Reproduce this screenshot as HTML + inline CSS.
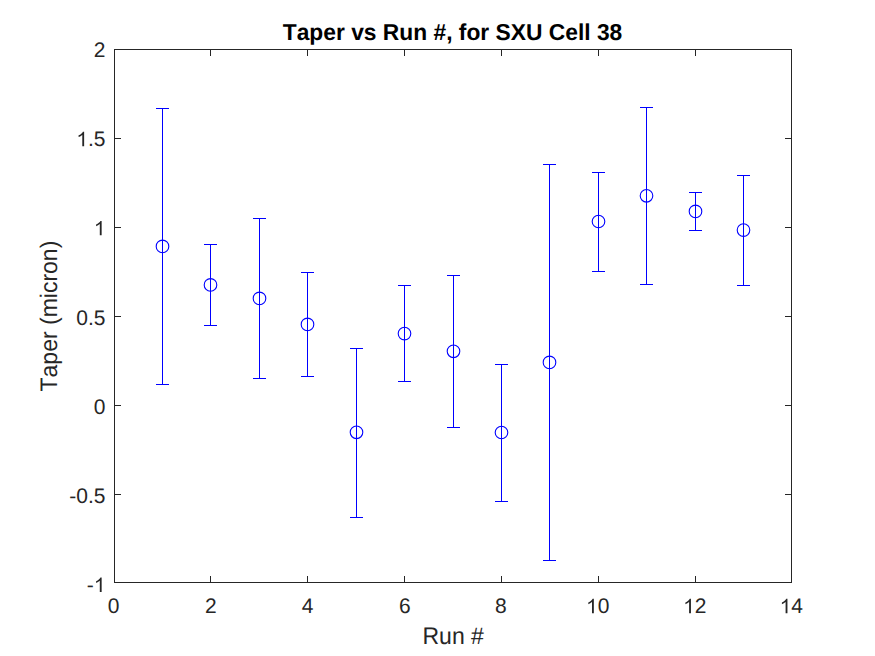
<!DOCTYPE html>
<html><head><meta charset="utf-8"><style>
html,body{margin:0;padding:0;background:#fff;width:875px;height:656px;overflow:hidden}
svg{display:block}
text{text-rendering:geometricPrecision;font-kerning:none}
.tk{font-family:"Liberation Sans",sans-serif;font-size:21px;fill:#262626}
.lb{font-family:"Liberation Sans",sans-serif;font-size:23px;fill:#262626}
.yl{font-size:23.0px}
.ti{font-family:"Liberation Sans",sans-serif;font-size:22.8px;font-weight:bold;fill:#000}
</style></head><body>
<svg width="875" height="656" viewBox="0 0 875 656">
<rect x="114.5" y="49.5" width="677" height="533" fill="#fff" stroke="#262626" stroke-width="1"/>
<path d="M114.5 582.5V576.0M114.5 49.5V56.0M210.5 582.5V576.0M210.5 49.5V56.0M307.5 582.5V576.0M307.5 49.5V56.0M404.5 582.5V576.0M404.5 49.5V56.0M501.5 582.5V576.0M501.5 49.5V56.0M598.5 582.5V576.0M598.5 49.5V56.0M695.5 582.5V576.0M695.5 49.5V56.0M791.5 582.5V576.0M791.5 49.5V56.0M114.5 49.5H121.0M791.5 49.5H785.0M114.5 138.5H121.0M791.5 138.5H785.0M114.5 227.5H121.0M791.5 227.5H785.0M114.5 316.5H121.0M791.5 316.5H785.0M114.5 405.5H121.0M791.5 405.5H785.0M114.5 494.5H121.0M791.5 494.5H785.0M114.5 582.5H121.0M791.5 582.5H785.0" stroke="#262626" fill="none"/>
<text transform="translate(107.76,613.30) scale(1,1.0)" class="tk">0</text>
<text transform="translate(205.06,613.30) scale(1,1.0)" class="tk">2</text>
<text transform="translate(301.86,613.30) scale(1,1.0)" class="tk">4</text>
<text transform="translate(398.96,613.30) scale(1,1.0)" class="tk">6</text>
<text transform="translate(495.06,613.30) scale(1,1.0)" class="tk">8</text>
<text transform="translate(586.02,613.30) scale(1,1.0)" class="tk"><tspan fill="transparent">1</tspan>0</text>
<text transform="translate(683.12,613.30) scale(1,1.0)" class="tk"><tspan fill="transparent">1</tspan>2</text>
<text transform="translate(779.62,613.30) scale(1,1.0)" class="tk"><tspan fill="transparent">1</tspan>4</text>
<text transform="translate(93.82,57.00) scale(1,1.0)" class="tk">2</text>
<text transform="translate(76.31,146.17) scale(1,1.0)" class="tk"><tspan fill="transparent">1</tspan>.5</text>
<text transform="translate(93.82,235.34) scale(1,1.0)" class="tk"><tspan fill="transparent">1</tspan></text>
<text transform="translate(76.31,324.51) scale(1,1.0)" class="tk">0.5</text>
<text transform="translate(93.82,413.68) scale(1,1.0)" class="tk">0</text>
<text transform="translate(69.31,502.85) scale(1,1.0)" class="tk">-0.5</text>
<text transform="translate(86.83,592.02) scale(1,1.0)" class="tk">-<tspan fill="transparent">1</tspan></text>
<path d="M162.5 108.5V384.5M156.0 108.5H169.0M156.0 384.5H169.0M210.5 244.5V325.5M204.0 244.5H217.0M204.0 325.5H217.0M259.5 218.5V378.5M253.0 218.5H266.0M253.0 378.5H266.0M307.5 272.5V376.5M301.0 272.5H314.0M301.0 376.5H314.0M356.5 348.5V517.5M350.0 348.5H363.0M350.0 517.5H363.0M404.5 285.5V381.5M398.0 285.5H411.0M398.0 381.5H411.0M453.5 275.5V427.5M447.0 275.5H460.0M447.0 427.5H460.0M501.5 364.5V501.5M495.0 364.5H508.0M495.0 501.5H508.0M549.5 164.5V560.5M543.0 164.5H556.0M543.0 560.5H556.0M598.5 172.5V271.5M592.0 172.5H605.0M592.0 271.5H605.0M646.5 107.5V284.5M640.0 107.5H653.0M640.0 284.5H653.0M695.5 192.5V230.5M689.0 192.5H702.0M689.0 230.5H702.0M743.5 175.5V285.5M737.0 175.5H750.0M737.0 285.5H750.0" stroke="#0000ff" fill="none"/>
<circle cx="162.5" cy="246.4" r="6.3" fill="none" stroke="#0000ff" stroke-width="1.1"/>
<circle cx="210.5" cy="284.9" r="6.3" fill="none" stroke="#0000ff" stroke-width="1.1"/>
<circle cx="259.5" cy="298.4" r="6.3" fill="none" stroke="#0000ff" stroke-width="1.1"/>
<circle cx="307.5" cy="324.4" r="6.3" fill="none" stroke="#0000ff" stroke-width="1.1"/>
<circle cx="356.5" cy="432.3" r="6.3" fill="none" stroke="#0000ff" stroke-width="1.1"/>
<circle cx="404.5" cy="333.6" r="6.3" fill="none" stroke="#0000ff" stroke-width="1.1"/>
<circle cx="453.5" cy="351.3" r="6.3" fill="none" stroke="#0000ff" stroke-width="1.1"/>
<circle cx="501.5" cy="432.5" r="6.3" fill="none" stroke="#0000ff" stroke-width="1.1"/>
<circle cx="549.5" cy="362.4" r="6.3" fill="none" stroke="#0000ff" stroke-width="1.1"/>
<circle cx="598.5" cy="221.5" r="6.3" fill="none" stroke="#0000ff" stroke-width="1.1"/>
<circle cx="646.5" cy="195.8" r="6.3" fill="none" stroke="#0000ff" stroke-width="1.1"/>
<circle cx="695.5" cy="211.4" r="6.3" fill="none" stroke="#0000ff" stroke-width="1.1"/>
<circle cx="743.5" cy="230.1" r="6.3" fill="none" stroke="#0000ff" stroke-width="1.1"/>
<g fill="#262626"><path transform="translate(586.02,613.30) scale(0.010254,-0.010254)" d="M763 0H583V1098Q518 1038 412 979T223 890V1057Q374 1125 487 1221T647 1409H763V0Z"/><path transform="translate(683.12,613.30) scale(0.010254,-0.010254)" d="M763 0H583V1098Q518 1038 412 979T223 890V1057Q374 1125 487 1221T647 1409H763V0Z"/><path transform="translate(779.62,613.30) scale(0.010254,-0.010254)" d="M763 0H583V1098Q518 1038 412 979T223 890V1057Q374 1125 487 1221T647 1409H763V0Z"/><path transform="translate(76.31,146.17) scale(0.010254,-0.010254)" d="M763 0H583V1098Q518 1038 412 979T223 890V1057Q374 1125 487 1221T647 1409H763V0Z"/><path transform="translate(93.82,235.34) scale(0.010254,-0.010254)" d="M763 0H583V1098Q518 1038 412 979T223 890V1057Q374 1125 487 1221T647 1409H763V0Z"/><path transform="translate(93.82,592.02) scale(0.010254,-0.010254)" d="M763 0H583V1098Q518 1038 412 979T223 890V1057Q374 1125 487 1221T647 1409H763V0Z"/></g>
<text transform="translate(452.5,39.6) scale(1.0,1.01)" text-anchor="middle" class="ti">Taper vs Run #, for SXU Cell 38</text>
<text transform="translate(453.2,644.2) scale(1,1.04)" text-anchor="middle" class="lb">Run #</text>
<text transform="translate(56.9,316.1) rotate(-90) scale(1,1.04)" text-anchor="middle" class="lb yl">Taper (micron)</text>
</svg>
</body></html>
